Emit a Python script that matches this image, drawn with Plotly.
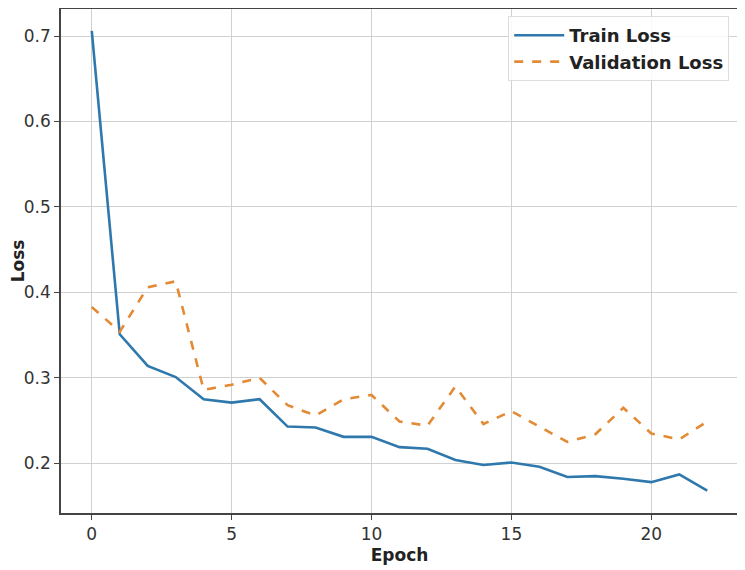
import plotly.graph_objects as go

# Loss curves
epochs = list(range(23))
train_loss = [0.706, 0.351, 0.314, 0.301, 0.275, 0.271, 0.275, 0.243, 0.242, 0.231,
              0.231, 0.219, 0.217, 0.204, 0.198, 0.201, 0.196, 0.184, 0.185, 0.182,
              0.178, 0.187, 0.168]
val_loss = [0.383, 0.354, 0.406, 0.413, 0.286, 0.292, 0.300, 0.268, 0.256, 0.275,
            0.280, 0.249, 0.244, 0.290, 0.246, 0.261, 0.243, 0.225, 0.234, 0.265,
            0.235, 0.228, 0.249]

x_ticks = [0, 5, 10, 15, 20]
y_ticks = [0.2, 0.3, 0.4, 0.5, 0.6, 0.7]

fig = go.Figure()

fig.add_trace(go.Scatter(
    x=epochs, y=train_loss, mode='lines', name='Train Loss',
    line=dict(color='#2f78ad', width=2.6)
))
fig.add_trace(go.Scatter(
    x=epochs, y=val_loss, mode='lines', name='Validation Loss',
    line=dict(color='#e38a35', width=2.6, dash='dash')
))

axis_style = dict(
    showline=True, linecolor='#444', linewidth=1.5, mirror=True,
    ticks='outside', ticklen=5, tickcolor='#444', tickwidth=1.2,
    showgrid=True, gridcolor='#d0d0d0', gridwidth=1.2,
    zeroline=False, automargin=False,
    tickfont=dict(family='DejaVu Sans', size=17, color='#333'),
)

# the page body adds an 8px offset, so margins are shifted to compensate
fig.update_layout(
    width=745, height=570,
    margin=dict(l=53, r=15, t=1, b=65),
    plot_bgcolor='white', paper_bgcolor='white',
    font=dict(family='DejaVu Sans', color='#222'),
    xaxis=dict(
        axis_style, range=[-1.1, 23.1], tickvals=x_ticks,
        title=dict(text='<b>Epoch</b>', font=dict(size=17), standoff=6),
    ),
    yaxis=dict(
        axis_style, range=[0.1419, 0.7316], tickvals=y_ticks,
        title=dict(text='<b>Loss</b>', font=dict(size=17), standoff=6),
    ),
    legend=dict(
        x=0.987, y=0.986, xanchor='right', yanchor='top',
        bgcolor='rgba(255,255,255,0.85)', bordercolor='#dddddd', borderwidth=1,
        font=dict(family='DejaVu Sans', size=18, color='#222', weight='bold'),
        tracegroupgap=0, itemwidth=50,
    ),
    showlegend=True,
)

fig.write_html('out.html')
